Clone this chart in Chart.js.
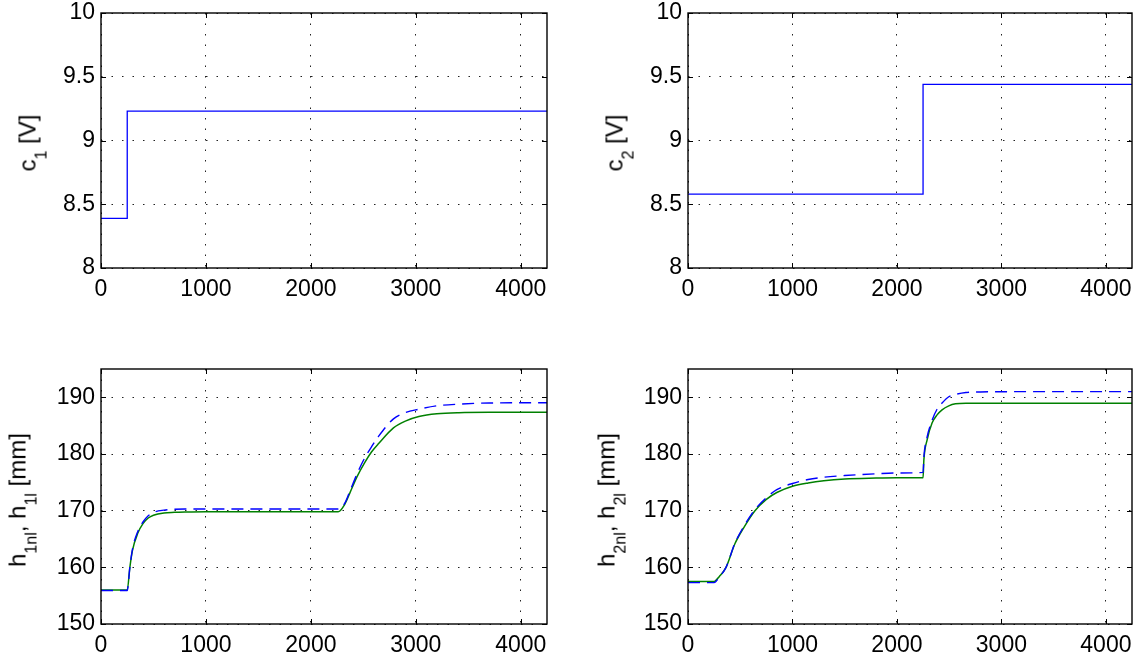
<!DOCTYPE html>
<html>
<head>
<meta charset="utf-8">
<script src="https://cdn.jsdelivr.net/npm/chart.js@4.4.1/dist/chart.umd.min.js"></script>
<style>
  html, body { margin: 0; padding: 0; background: #fff; }
  body { width: 1142px; height: 664px; position: relative; overflow: hidden;
         font-family: "Liberation Sans", Arial, Helvetica, sans-serif; }
  canvas { position: absolute; }
  .ylab { position: absolute; font-size: 24px; line-height: 24px; white-space: nowrap; color: #000;
          transform: translate(-50%, -50%) rotate(-90deg); }
  .ylab sub { font-size: 16px; vertical-align: baseline; position: relative; top: 11px; }
</style>
</head>
<body>
<canvas id="chartC1" width="565" height="350" style="left:0;top:-20px"></canvas>
<canvas id="chartC2" width="571" height="350" style="left:571px;top:-20px"></canvas>
<canvas id="chartH1" width="565" height="324" style="left:0;top:340px"></canvas>
<canvas id="chartH2" width="571" height="324" style="left:571px;top:340px"></canvas>

<div class="ylab" style="left:29px;top:143px">c<sub>1</sub> [V]</div>
<div class="ylab" style="left:616px;top:143px">c<sub>2</sub> [V]</div>
<div class="ylab" style="left:19px;top:500px">h<sub>1nl</sub>, h<sub>1l</sub> [mm]</div>
<div class="ylab" style="left:608px;top:500px">h<sub>2nl</sub>, h<sub>2l</sub> [mm]</div>

<script>
// control signals (step inputs)
const c1Times = [0, 250, 4250];
const c1Values = [8.39, 9.23, 9.23];
const c2Times = [0, 2250, 4250];
const c2Values = [8.58, 9.44, 9.44];

// tank 1 levels
const h1Times = [0, 250, 275, 300, 350, 400, 450, 500, 600, 700, 800, 1000, 1500, 2260,
                 2319, 2371, 2440, 2510, 2579, 2648, 2787, 2900, 3029, 3200, 3410, 3700, 4250];
const h1Nonlin = [156.0, 156.0, 160.0, 163.0, 166.0, 167.7, 168.7, 169.2, 169.6, 169.7, 169.75, 169.8, 169.8, 169.8,
                  171.0, 173.1, 176.0, 178.4, 180.4, 181.9, 184.6, 185.8, 186.6, 187.1, 187.3, 187.35, 187.35];
const h1Lin = [155.9, 155.9, 160.0, 163.2, 166.3, 168.0, 169.1, 169.7, 170.1, 170.25, 170.3, 170.3, 170.3, 170.3,
               171.2, 173.4, 176.5, 179.2, 181.3, 183.2, 186.2, 187.3, 187.9, 188.5, 188.8, 189.0, 189.05];

// tank 2 levels
const h2Times = [0, 250, 300, 364, 450, 540, 641, 750, 850, 1000, 1150, 1300, 1500, 1800, 2000, 2250,
                 2258, 2289, 2337, 2384, 2432, 2496, 2560, 2660, 2800, 3200, 4250];
const h2Nonlin = [157.5, 157.5, 158.4, 160.0, 164.2, 167.2, 170.0, 172.0, 173.2, 174.3, 174.9, 175.3, 175.6, 175.75, 175.8, 175.8,
                  179.0, 182.5, 185.5, 186.9, 187.8, 188.5, 188.85, 188.95, 188.95, 188.95, 188.95];
const h2Lin = [157.3, 157.3, 158.3, 160.0, 164.3, 167.4, 170.2, 172.3, 173.7, 174.8, 175.5, 175.9, 176.2, 176.5, 176.65, 176.75,
               179.5, 183.0, 186.0, 187.9, 189.0, 190.1, 190.5, 190.85, 190.95, 191.0, 191.0];

const xTicks = [0, 1000, 2000, 3000, 4000];
const xMax = 4250;

Chart.defaults.font.family = '"Liberation Sans", Arial, Helvetica, sans-serif';
Chart.defaults.color = '#000';

const pts = (xs, ys) => xs.map((x, i) => ({ x: x, y: ys[i] }));

// box around the axes plus short inward ticks, like matlab
const boxPlugin = {
  id: 'boxPlugin',
  afterDraw(chart) {
    const { ctx, chartArea: a, scales } = chart;
    ctx.save();
    ctx.strokeStyle = '#000';
    ctx.lineWidth = 1;
    ctx.beginPath();
    scales.x.ticks.forEach(t => {
      const px = Math.round(scales.x.getPixelForValue(t.value)) + 0.5;
      ctx.moveTo(px, a.bottom); ctx.lineTo(px, a.bottom - 5);
      ctx.moveTo(px, a.top); ctx.lineTo(px, a.top + 5);
    });
    scales.y.ticks.forEach(t => {
      const py = Math.round(scales.y.getPixelForValue(t.value)) + 0.5;
      ctx.moveTo(a.left, py); ctx.lineTo(a.left + 5, py);
      ctx.moveTo(a.right, py); ctx.lineTo(a.right - 5, py);
    });
    ctx.stroke();
    ctx.lineWidth = 1.4;
    ctx.strokeRect(a.left, a.top, a.right - a.left, a.bottom - a.top);
    ctx.restore();
  }
};

function makeChart(id, datasets, yMin, yMax, yStep, yWidth, xHeight, pad) {
  return new Chart(document.getElementById(id), {
    type: 'line',
    data: { datasets: datasets },
    plugins: [boxPlugin],
    options: {
      responsive: false,
      animation: false,
      events: [],
      layout: { padding: pad },
      plugins: { legend: { display: false }, tooltip: { enabled: false } },
      elements: { point: { radius: 0 } },
      scales: {
        x: {
          type: 'linear', min: 0, max: xMax,
          afterBuildTicks: s => { s.ticks = xTicks.map(v => ({ value: v })); },
          afterFit: s => { s.height = xHeight; },
          grid: { color: '#222', lineWidth: 1, drawTicks: false },
          border: { display: false, dash: [1.5, 9] },
          ticks: { font: { size: 23 }, padding: 8, maxRotation: 0, autoSkip: false, callback: v => String(v) }
        },
        y: {
          min: yMin, max: yMax,
          ticks: { stepSize: yStep, includeBounds: false, font: { size: 23 }, padding: 6, callback: v => String(v) },
          afterFit: s => { s.width = yWidth; },
          grid: { color: '#222', lineWidth: 1, drawTicks: false },
          border: { display: false, dash: [1.5, 9] }
        }
      }
    }
  });
}

const stepStyle = { borderColor: '#0000ff', borderWidth: 1.3, stepped: true, fill: false };
const linStyle = { borderColor: '#0000ff', borderWidth: 1.4, borderDash: [12, 7], fill: false, cubicInterpolationMode: 'monotone' };
const nlStyle = { borderColor: '#008000', borderWidth: 1.5, fill: false, cubicInterpolationMode: 'monotone' };

makeChart('chartC1', [Object.assign({ label: 'c1', data: pts(c1Times, c1Values) }, stepStyle)],
  8, 10, 0.5, 101, 62, { top: 33, right: 18, left: 0, bottom: 0 });
makeChart('chartC2', [Object.assign({ label: 'c2', data: pts(c2Times, c2Values) }, stepStyle)],
  8, 10, 0.5, 117, 62, { top: 33, right: 10, left: 0, bottom: 0 });
makeChart('chartH1', [
    Object.assign({ label: 'h1l', data: pts(h1Times, h1Lin) }, linStyle),
    Object.assign({ label: 'h1nl', data: pts(h1Times, h1Nonlin) }, nlStyle)
  ], 150, 195, 10, 101, 40, { top: 29, right: 18, left: 0, bottom: 0 });
makeChart('chartH2', [
    Object.assign({ label: 'h2l', data: pts(h2Times, h2Lin) }, linStyle),
    Object.assign({ label: 'h2nl', data: pts(h2Times, h2Nonlin) }, nlStyle)
  ], 150, 195, 10, 117, 40, { top: 29, right: 10, left: 0, bottom: 0 });
</script>
</body>
</html>
